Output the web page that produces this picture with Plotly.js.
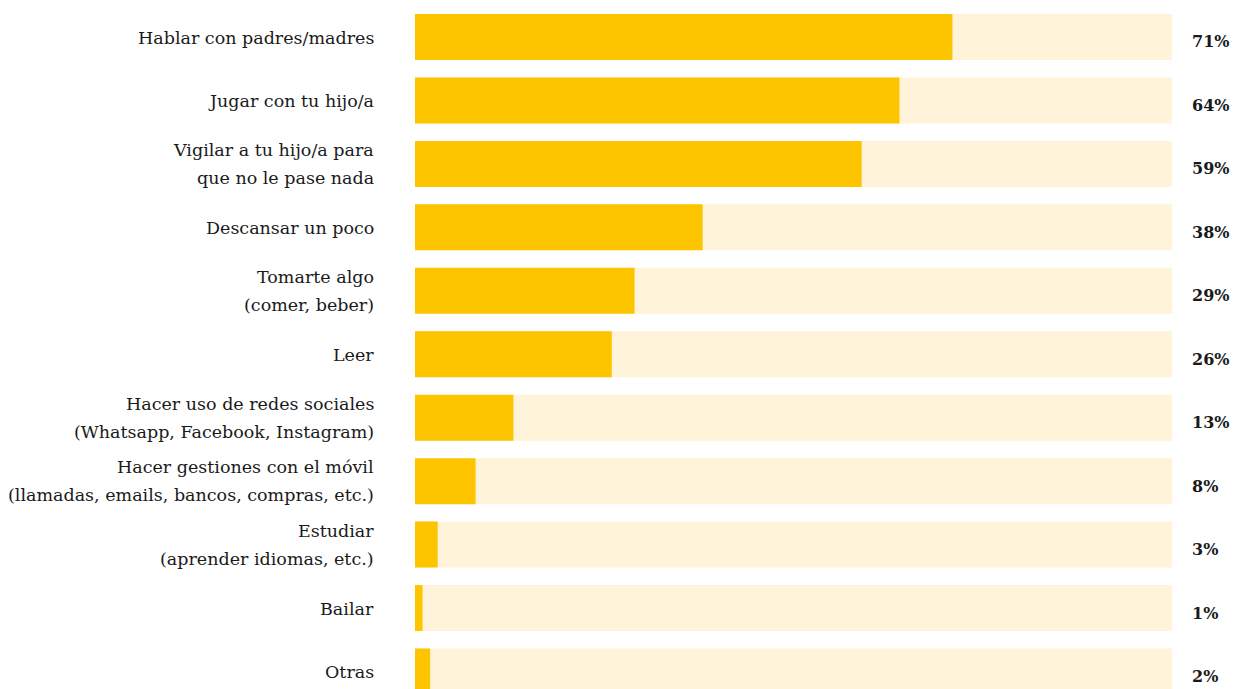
<!DOCTYPE html>
<html>
<head>
<meta charset="utf-8">
<script src="https://cdn.plot.ly/plotly-3.0.1.min.js"></script>
<style>html,body{margin:0;padding:0;background:#fff;}#chart{width:1237px;height:689px;}</style>
</head>
<body>
<div id="chart"></div>
<script>
const categories = [
  "Hablar con padres/madres",
  "Jugar con tu hijo/a",
  "Vigilar a tu hijo/a para<br>que no le pase nada",
  "Descansar un poco",
  "Tomarte algo<br>(comer, beber)",
  "Leer",
  "Hacer uso de redes sociales<br>(Whatsapp, Facebook, Instagram)",
  "Hacer gestiones con el móvil<br>(llamadas, emails, bancos, compras, etc.)",
  "Estudiar<br>(aprender idiomas, etc.)",
  "Bailar",
  "Otras"
];
const values = [71, 64, 59, 38, 29, 26, 13, 8, 3, 1, 2];
const totals = [100, 100, 100, 100, 100, 100, 100, 100, 100, 100, 100];
const valueLabels = values.map(v => v + "%");

const idx = categories.map((_, i) => i);
const serif = "DejaVu Serif, Liberation Serif, serif";

const traces = [
  {type: "bar", orientation: "h", y: idx, x: totals, width: 0.725,
   marker: {color: "#FFF3D9"}, hoverinfo: "skip", showlegend: false},
  {type: "bar", orientation: "h", y: idx, x: values, width: 0.725,
   marker: {color: "#FCC500"}, hoverinfo: "skip", showlegend: false}
];

const annotations = valueLabels.map((t, i) => ({
  x: 1, xref: "paper", xanchor: "left", xshift: 18,
  y: i, yref: "y", yanchor: "middle", yshift: -5,
  text: "<b>" + t + "</b>", showarrow: false,
  font: {family: serif, size: 16, color: "#1a1a1a"}
}));

categories.forEach((c, i) => {
  const lines = c.split("<br>");
  const shifts = lines.length === 1 ? [-1] : [14, -14];
  lines.forEach((ln, k) => {
    annotations.push({
      x: 0, xref: "paper", xanchor: "right", xshift: -39,
      y: i, yref: "y", yanchor: "middle", yshift: shifts[k],
      text: ln, showarrow: false,
      font: {family: serif, size: 17.5, color: "#1a1a1a"}
    });
  });
});

const layout = {
  width: 1237, height: 689,
  margin: {l: 415, r: 65, t: 0, b: 0},
  paper_bgcolor: "#fff", plot_bgcolor: "#fff",
  barmode: "overlay",
  xaxis: {range: [0, 100], visible: false, fixedrange: true},
  yaxis: {
    range: [10.276, -0.583],
    tickmode: "array", tickvals: idx, ticktext: idx.map(() => ""),
    showgrid: false, zeroline: false, showline: false, ticks: "",
    automargin: false
  },
  annotations: annotations
};

Plotly.newPlot("chart", traces, layout, {displayModeBar: false, staticPlot: true});
</script>
</body>
</html>
